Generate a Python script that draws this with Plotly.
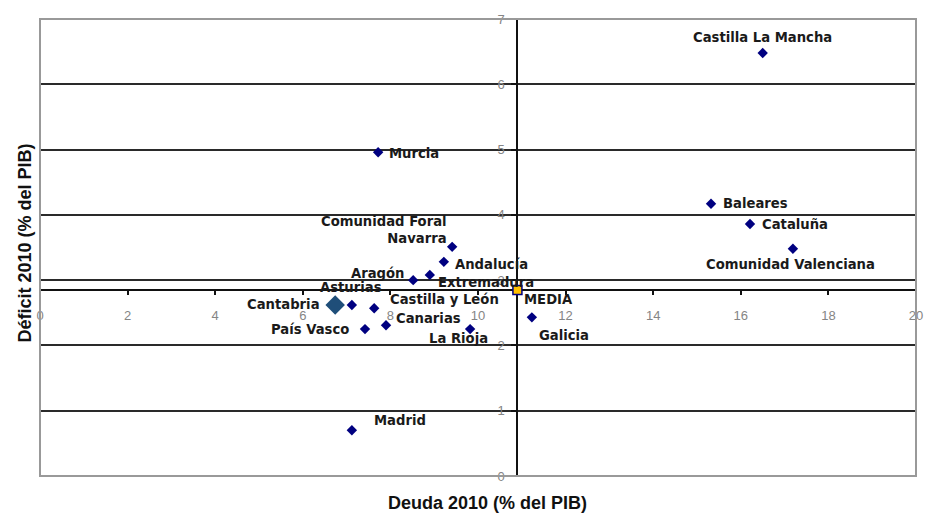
import plotly.graph_objects as go

regions = ["Castilla La Mancha", "Murcia", "Baleares", "Cataluña", "Comunidad Valenciana",
           "Comunidad Foral<br>Navarra", "Andalucía", "Extremadura", "Aragón", "Asturias",
           "Castilla y León", "Canarias", "País Vasco", "La Rioja", "Galicia", "Madrid"]
deuda = [16.5, 7.72, 15.32, 16.21, 17.19, 9.41, 9.22, 8.90, 8.52, 7.12,
         7.63, 7.90, 7.42, 9.82, 11.23, 7.12]
deficit = [6.48, 4.96, 4.17, 3.86, 3.48, 3.51, 3.28, 3.08, 3.00, 2.62,
           2.57, 2.31, 2.25, 2.25, 2.43, 0.70]

cant_name = "Cantabria"
cant_x = [6.74]
cant_y = [2.62]

media_name = "MEDIA"
media_x = [10.9]
media_y = [2.85]

x_ticks = [0, 2, 4, 6, 8, 10, 12, 14, 16, 18, 20]
y_ticks = [0, 1, 2, 3, 4, 5, 6, 7]

# label offsets (pixels) and anchors
label_style = {
    "Castilla La Mancha": (0, 15, "center"),
    "Murcia": (9, -1, "left"),
    "Baleares": (10, 0, "left"),
    "Cataluña": (10, 0, "left"),
    "Comunidad Valenciana": (-2, -16, "center"),
    "Comunidad Foral<br>Navarra": (-3, 17, "right"),
    "Andalucía": (9, -3, "left"),
    "Extremadura": (6, -8, "left"),
    "Aragón": (-6, 7, "right"),
    "Asturias": (-1, 17, "center"),
    "Castilla y León": (14, 9, "left"),
    "Canarias": (8, 7, "left"),
    "País Vasco": (-14, 0, "right"),
    "La Rioja": (-12, -9, "center"),
    "Galicia": (5, -18, "left"),
    "Madrid": (20, 10, "left"),
}

fig = go.Figure()

fig.add_trace(go.Scatter(x=deuda, y=deficit, mode="markers",
                         marker=dict(symbol="diamond", size=8, color="#000080"),
                         hoverinfo="skip", showlegend=False))
fig.add_trace(go.Scatter(x=cant_x, y=cant_y, mode="markers",
                         marker=dict(symbol="diamond", size=15, color="#1F4E79"),
                         hoverinfo="skip", showlegend=False))
fig.add_trace(go.Scatter(x=media_x, y=media_y, mode="markers",
                         marker=dict(symbol="square", size=9, color="#FFC000",
                                     line=dict(color="#000080", width=1.5)),
                         hoverinfo="skip", showlegend=False))

lab_font = dict(family="DejaVu Sans", size=13.2, color="#1a1a1a", weight="bold")
for name, xv, yv in zip(regions, deuda, deficit):
    dx, dy, al = label_style[name]
    fig.add_annotation(x=xv, y=yv, text=name, showarrow=False, xshift=dx, yshift=dy,
                       xanchor=al, yanchor="middle", align=al, font=lab_font)
fig.add_annotation(x=cant_x[0], y=cant_y[0], text=cant_name, showarrow=False,
                   xshift=-13, yshift=0, xanchor="right", yanchor="middle", font=lab_font)
fig.add_annotation(x=media_x[0], y=media_y[0], text=media_name, showarrow=False,
                   xshift=5, yshift=-10, xanchor="left", yanchor="middle", font=lab_font)

fig.add_annotation(x=-0.017, y=0.509, xref="paper", yref="paper", textangle=-90,
                   text="<b>Déficit 2010 (% del PIB)</b>", showarrow=False,
                   xanchor="center", yanchor="middle",
                   font=dict(family="Liberation Sans", size=18, color="#111"))
fig.add_annotation(x=0.511, y=-0.059, xref="paper", yref="paper",
                   text="<b>Deuda 2010 (% del PIB)</b>", showarrow=False,
                   xanchor="center", yanchor="middle",
                   font=dict(family="Liberation Sans", size=18, color="#111"))

tick_font = dict(family="Liberation Sans", size=13, color="#858585")
fig.update_xaxes(range=[0, 20], tickvals=x_ticks, anchor="free", automargin=False,
                 position=media_y[0] / 7, showgrid=False, zeroline=False,
                 showline=True, linecolor="#111", linewidth=2, layer="below traces",
                 ticks="outside", ticklen=4, tickcolor="#111", tickwidth=1.5,
                 ticklabelstandoff=9, tickfont=tick_font)
fig.update_yaxes(range=[0, 7], tickvals=y_ticks, anchor="free", automargin=False,
                 position=media_x[0] / 20, showgrid=True, gridcolor="#2a2a2a",
                 gridwidth=1.5, zeroline=False, layer="below traces",
                 showline=True, linecolor="#111", linewidth=2,
                 ticks="outside", ticklen=5, tickcolor="#111", tickwidth=1.5,
                 ticklabelstandoff=4, tickfont=tick_font)

fig.add_shape(type="rect", xref="paper", yref="paper", x0=0, y0=0, x1=1, y1=1,
              line=dict(color="#999999", width=2), layer="above")

fig.update_layout(width=926, height=514, margin=dict(l=40, r=10, t=19, b=38),
                  plot_bgcolor="white", paper_bgcolor="white")

fig.write_html("out.html", config={"displayModeBar": False},
               post_script="document.body.style.margin='0';document.body.style.overflow='hidden';")
